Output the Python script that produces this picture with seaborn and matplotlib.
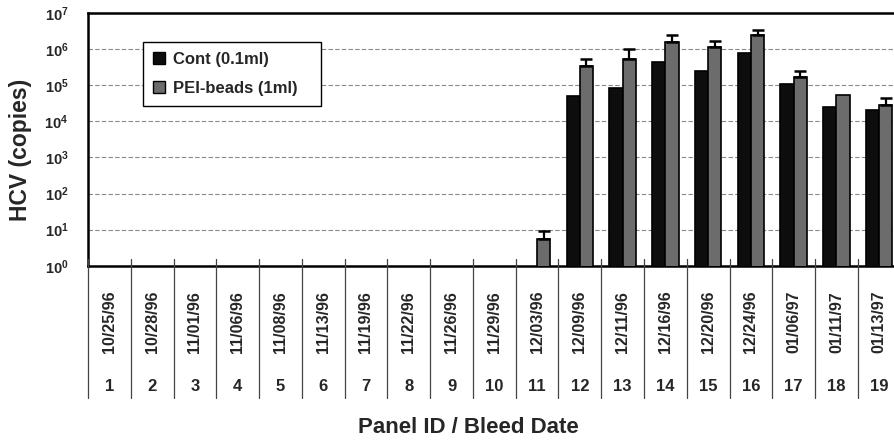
import numpy as np
import pandas as pd
import matplotlib
matplotlib.use('Agg')
import matplotlib.pyplot as plt
import matplotlib.transforms as mtransforms
from matplotlib.patches import Patch
import seaborn as sns

nan = np.nan

# values (log axis)
panel_ids = ['1', '2', '3', '4', '5', '6', '7', '8', '9', '10',
             '11', '12', '13', '14', '15', '16', '17', '18', '19']
bleed_dates = ['10/25/96', '10/28/96', '11/01/96', '11/06/96', '11/08/96',
               '11/13/96', '11/19/96', '11/22/96', '11/26/96', '11/29/96',
               '12/03/96', '12/09/96', '12/11/96', '12/16/96', '12/20/96',
               '12/24/96', '01/06/97', '01/11/97', '01/13/97']
cont_copies = [nan, nan, nan, nan, nan, nan, nan, nan, nan, nan,
               nan, 5.0e4, 8.4e4, 4.3e5, 2.4e5, 7.8e5, 1.07e5, 2.5e4, 2.0e4]
pei_copies = [nan, nan, nan, nan, nan, nan, nan, nan, nan, nan,
              5.6, 3.3e5, 5.4e5, 1.6e6, 1.1e6, 2.4e6, 1.7e5, 5.5e4, 2.9e4]
pei_err_top = [nan, nan, nan, nan, nan, nan, nan, nan, nan, nan,
               9.2, 5.4e5, 1.0e6, 2.4e6, 1.7e6, 3.3e6, 2.4e5, nan, 4.4e4]

group_names = ['Cont (0.1ml)', 'PEI-beads (1ml)']
group_colors = ['#0d0d0d', '#6c6c6c']

rows = []
for pid, c, p in zip(panel_ids, cont_copies, pei_copies):
    rows.append({'panel': pid, 'group': group_names[0], 'copies': c})
    rows.append({'panel': pid, 'group': group_names[1], 'copies': p})
df = pd.DataFrame(rows).dropna()

sns.set_style('white')
plt.rcParams['font.family'] = ['Liberation Sans', 'DejaVu Sans']

fig = plt.figure(figsize=(8.94, 4.43), dpi=100)
ax = fig.add_axes([0.0984, 0.400, 0.909, 0.571])
ax.set_yscale('log')

sns.barplot(data=df, x='panel', y='copies', hue='group', order=panel_ids,
            hue_order=group_names, palette=group_colors, width=0.62,
            edgecolor='black', linewidth=1.2, saturation=1, ax=ax, zorder=3)

# upper error bars on the PEI-beads bars
for bar in ax.containers[1]:
    xc = bar.get_x() + bar.get_width() / 2
    top = bar.get_height()
    err = pei_err_top[int(round(xc))]
    if np.isnan(err):
        continue
    ax.errorbar(xc, top, yerr=[[0], [err - top]], fmt='none', ecolor='black',
                elinewidth=1.6, capsize=4.5, capthick=1.8, zorder=4)

ax.set_ylim(1, 1e7)
ax.set_xlim(-0.5, len(panel_ids) - 0.5)
ax.set_yticks([10.0 ** k for k in range(8)])
ax.minorticks_off()
ax.yaxis.grid(True, color='#8a8a8a', linestyle=(0, (4, 2)), linewidth=0.8)
ax.set_axisbelow(True)
for lab in ax.get_yticklabels():
    lab.set_fontweight('bold')
    lab.set_fontsize(10.5)
ax.tick_params(axis='y', length=0, pad=14)
ax.tick_params(axis='x', length=0, labelbottom=False)
ax.set_xlabel('')
ax.set_ylabel('HCV (copies)', fontsize=16.5, fontweight='bold')
ax.yaxis.set_label_coords(-0.069, 0.46)

for side in ['left', 'top', 'bottom']:
    ax.spines[side].set_color('black')
    ax.spines[side].set_linewidth(1.8)
ax.spines['right'].set_visible(False)

# table under the axis: separators, dates and panel numbers
trans = mtransforms.blended_transform_factory(ax.transData, ax.transAxes)
for i in range(len(panel_ids) + 1):
    ax.plot([i - 0.5, i - 0.5], [0.025, -0.524], color='#444444', lw=0.9,
            transform=trans, clip_on=False, zorder=5)
for i, (pid, d) in enumerate(zip(panel_ids, bleed_dates)):
    ax.text(i, -0.222, d, rotation=90, ha='center', va='center',
            fontsize=11.5, fontweight='bold', transform=trans)
    ax.text(i, -0.479, pid, ha='center', va='center', fontsize=12,
            fontweight='bold', transform=trans)

fig.text(0.524, 0.034, 'Panel ID / Bleed Date', ha='center', va='center',
         fontsize=16, fontweight='bold')

handles = [Patch(facecolor=group_colors[0], edgecolor='black', label=group_names[0]),
           Patch(facecolor=group_colors[1], edgecolor='black', label=group_names[1])]
leg = ax.legend(handles=handles, loc='upper left',
                bbox_to_anchor=(0.0673, 0.0, 0.219, 0.885), mode='expand',
                borderaxespad=0, frameon=True, fancybox=False, edgecolor='black',
                framealpha=1, handlelength=0.75, handleheight=0.75,
                handletextpad=0.5, labelspacing=0.85, borderpad=0.6,
                prop={'weight': 'bold', 'size': 12})
leg.get_frame().set_linewidth(1.0)

fig.savefig('out.png', dpi=100)
